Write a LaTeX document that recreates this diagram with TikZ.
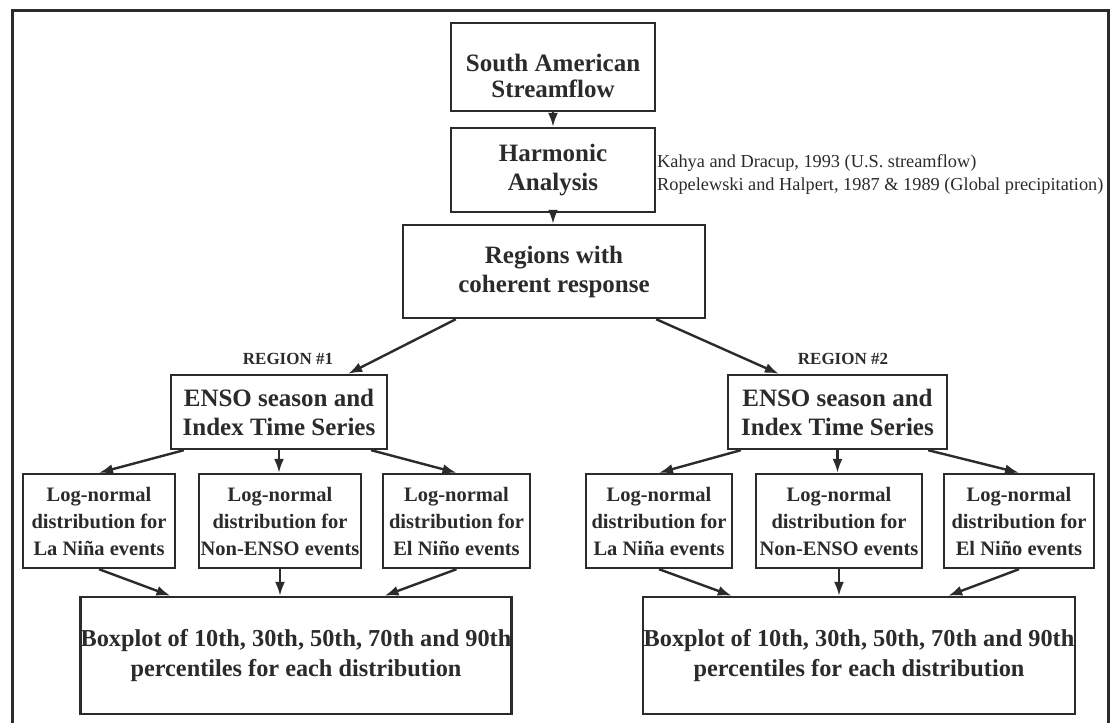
\documentclass[tikz,border=0pt]{standalone}
\usepackage{fontspec}
\setmainfont{Liberation Serif}
\usetikzlibrary{arrows.meta}
\definecolor{ink}{gray}{0.17}

\begin{document}
\begin{tikzpicture}[x=1pt, y=-1pt,
  box/.style={draw=ink, line width=2.4pt, rectangle, inner sep=0pt, align=center, text=ink, font=\fontsize{25}{29}\selectfont\bfseries},
  lognormal/.style={box, font=\fontsize{20.5}{27}\selectfont\bfseries},
  regionlabel/.style={inner sep=0pt, text=ink, font=\fontsize{17}{19}\selectfont\bfseries},
  cite/.style={inner sep=0pt, align=left, text=ink, font=\fontsize{18.3}{23}\selectfont},
  flow/.style={draw=ink, line width=2.4pt, -{Latex[length=14pt,width=10pt]}}]
  \useasboundingbox (0,0) rectangle (1112,723);
  \fill[white] (0,0) rectangle (1112,723);
  \draw[ink, line width=3pt] (12,723) -- (12,10) -- (1108,10) -- (1108,723);
  \node[box, minimum width=204, minimum height=88, font=\fontsize{25}{26}\selectfont\bfseries] (sas) at (553,67) {\rule{0pt}{35pt}South American\\Streamflow};
  \node[box, minimum width=204, minimum height=84] (harm) at (553,170) {Harmonic\\Analysis};
  \node[cite, anchor=north west] (refs) at (657,154) {Kahya and Dracup, 1993 (U.S. streamflow)\\Ropelewski and Halpert, 1987 \& 1989 (Global precipitation)};
  \node[box, minimum width=302, minimum height=93] (regions) at (554,271.5) {Regions with\\coherent response};
  \node[regionlabel] (regL) at (288,359) {REGION \#1};
  \node[regionlabel] (regR) at (843,359) {REGION \#2};
  \node[box, minimum width=216, minimum height=74] (ensoL) at (279,412) {ENSO season and\\Index Time Series};
  \node[box, minimum width=219, minimum height=74] (ensoR) at (837.5,412) {ENSO season and\\Index Time Series};
  \node[lognormal, minimum width=152, minimum height=94] (lninaL) at (99,521) {Log-normal\\distribution for\\La Niña events};
  \node[lognormal, minimum width=162, minimum height=94] (nonL) at (280,521) {Log-normal\\distribution for\\Non-ENSO events};
  \node[lognormal, minimum width=147, minimum height=94] (elninoL) at (456.5,521) {Log-normal\\distribution for\\El Niño events};
  \node[lognormal, minimum width=146, minimum height=94] (lninaR) at (659,521) {Log-normal\\distribution for\\La Niña events};
  \node[lognormal, minimum width=166, minimum height=94] (nonR) at (839,521) {Log-normal\\distribution for\\Non-ENSO events};
  \node[lognormal, minimum width=150, minimum height=94] (elninoR) at (1019,521) {Log-normal\\distribution for\\El Niño events};
  \node[box, minimum width=428, minimum height=117, font=\fontsize{24.3}{30}\selectfont\bfseries] (bpL) at (296,655.5) {Boxplot of 10th, 30th, 50th, 70th and 90th\\percentiles for each distribution};
  \node[box, minimum width=432, minimum height=117, font=\fontsize{24.3}{30}\selectfont\bfseries] (bpR) at (859,655.5) {Boxplot of 10th, 30th, 50th, 70th and 90th\\percentiles for each distribution};
  \draw[flow] (sas.south) -- (harm.north);
  \draw[flow] (harm.south) -- (harm.south |- regions.north);
  \draw[flow] ([xshift=54]regions.south west) -- ([xshift=-40]ensoL.north east);
  \draw[flow] ([xshift=-50]regions.south east) -- ([xshift=52]ensoR.north west);
  \draw[flow] ([xshift=14]ensoL.south west) -- (lninaL.north);
  \draw[flow] (ensoL.south) -- (ensoL.south |- nonL.north);
  \draw[flow] ([xshift=-17]ensoL.south east) -- (elninoL.north);
  \draw[flow] (lninaL.south) -- ([xshift=91]bpL.north west);
  \draw[flow] (nonL.south) -- (nonL.south |- bpL.north);
  \draw[flow] (elninoL.south) -- ([xshift=-128]bpL.north east);
  \draw[flow] ([xshift=14]ensoR.south west) -- (lninaR.north);
  \draw[flow] (ensoR.south) -- (ensoR.south |- nonR.north);
  \draw[flow] ([xshift=-20]ensoR.south east) -- (elninoR.north);
  \draw[flow] (lninaR.south) -- ([xshift=90]bpR.north west);
  \draw[flow] (nonR.south) -- (nonR.south |- bpR.north);
  \draw[flow] (elninoR.south) -- ([xshift=-128]bpR.north east);
\end{tikzpicture}
\end{document}
